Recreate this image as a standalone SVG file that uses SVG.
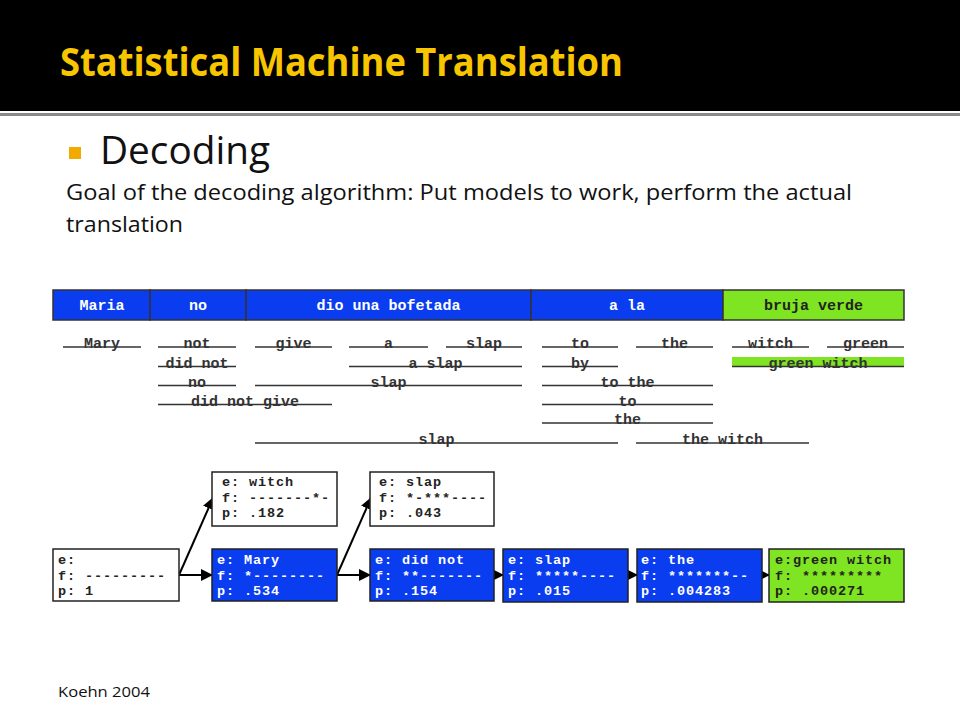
<svg xmlns="http://www.w3.org/2000/svg" width="960" height="720" viewBox="0 0 960 720">
<defs>
<style>
.ttl{font-family:"Open Sans","Noto Sans",sans-serif;font-weight:bold;fill:#f7c600}
.body{font-family:"Open Sans","Noto Sans",sans-serif;fill:#111}
.mono{font-family:"Liberation Mono","DejaVu Sans Mono",monospace;font-weight:bold;font-size:15px}
.bx{font-size:13.5px;letter-spacing:0.9px}
.cellb{fill:#0a3cf0;stroke:#333;stroke-width:1.5}
.cellg{fill:#7fe421;stroke:#333;stroke-width:1.5}
.wt{fill:#fff}
.dk{fill:#222}
.ph{fill:#333}
.pl{stroke:#333;stroke-width:1.5}
.boxw{fill:#fff;stroke:#222;stroke-width:1.5}
.boxb{fill:#0a3cf0;stroke:#222;stroke-width:1.5}
.boxg{fill:#7fe421;stroke:#222;stroke-width:1.5}
.arr{stroke:#000;stroke-width:2;fill:none}
</style>
<marker id="ah" markerUnits="userSpaceOnUse" markerWidth="12" markerHeight="12" viewBox="0 0 12 12" refX="11" refY="6" orient="auto">
<path d="M0,0 L12,6 L0,12 Z" fill="#000"/>
</marker>
</defs>
<rect x="0" y="0" width="960" height="720" fill="#fff"/>
<g id="header">
<rect x="0" y="0" width="960" height="111" fill="#000"/>
<rect x="0" y="113" width="960" height="3" fill="#8a8a8a"/>
<text class="ttl" x="60" y="76" font-size="39" textLength="563" lengthAdjust="spacingAndGlyphs">Statistical Machine Translation</text>
</g>
<g id="bullet">
<rect x="69" y="147" width="12" height="12" fill="#f2a900"/>
<text class="body" x="100" y="164" font-size="38" textLength="170" lengthAdjust="spacingAndGlyphs">Decoding</text>
<text class="body" x="66" y="200" font-size="22" textLength="786" lengthAdjust="spacingAndGlyphs">Goal of the decoding algorithm:  Put models to work, perform the actual</text>
<text class="body" x="66" y="232" font-size="22" textLength="117" lengthAdjust="spacingAndGlyphs">translation</text>
</g>
<g id="source-row" class="mono" text-anchor="middle">
<rect class="cellb" x="53" y="290" width="97" height="30"/>
<rect class="cellb" x="150" y="290" width="96" height="30"/>
<rect class="cellb" x="246" y="290" width="285" height="30"/>
<rect class="cellb" x="531" y="290" width="192" height="30"/>
<rect class="cellg" x="723" y="290" width="181" height="30"/>
<text class="wt" x="102" y="310">Maria</text>
<text class="wt" x="198" y="310">no</text>
<text class="wt" x="388.5" y="310">dio una bofetada</text>
<text class="wt" x="627" y="310">a la</text>
<text class="dk" x="813.5" y="310">bruja verde</text>
</g>
<g id="phrase-options" class="mono" text-anchor="middle">
<rect x="732" y="357" width="172" height="10" fill="#7fe421"/>
<g class="pl">
<line x1="63" y1="347" x2="141" y2="347"/>
<line x1="158" y1="347" x2="236" y2="347"/>
<line x1="255" y1="347" x2="332" y2="347"/>
<line x1="349" y1="347" x2="428" y2="347"/>
<line x1="446" y1="347" x2="522" y2="347"/>
<line x1="542" y1="347" x2="618" y2="347"/>
<line x1="636" y1="347" x2="713" y2="347"/>
<line x1="732" y1="347" x2="809" y2="347"/>
<line x1="827" y1="347" x2="904" y2="347"/>
<line x1="158" y1="366.5" x2="236" y2="366.5"/>
<line x1="349" y1="366.5" x2="522" y2="366.5"/>
<line x1="542" y1="366.5" x2="618" y2="366.5"/>
<line x1="732" y1="366.5" x2="904" y2="366.5"/>
<line x1="158" y1="385.5" x2="236" y2="385.5"/>
<line x1="255" y1="385.5" x2="522" y2="385.5"/>
<line x1="542" y1="385.5" x2="713" y2="385.5"/>
<line x1="158" y1="404.5" x2="332" y2="404.5"/>
<line x1="542" y1="404.5" x2="713" y2="404.5"/>
<line x1="542" y1="423" x2="713" y2="423"/>
<line x1="255" y1="443" x2="618" y2="443"/>
<line x1="636" y1="443" x2="809" y2="443"/>
</g>
<g class="ph">
<text x="102" y="348">Mary</text>
<text x="197" y="348">not</text>
<text x="293.5" y="348">give</text>
<text x="388.5" y="348">a</text>
<text x="484" y="348">slap</text>
<text x="580" y="348">to</text>
<text x="674.5" y="348">the</text>
<text x="770.5" y="348">witch</text>
<text x="865.5" y="348">green</text>
<text x="197" y="367.5">did not</text>
<text x="435.5" y="367.5">a slap</text>
<text x="580" y="367.5">by</text>
<text x="818" y="367.5">green witch</text>
<text x="197" y="386.5">no</text>
<text x="388.5" y="386.5">slap</text>
<text x="627.5" y="386.5">to the</text>
<text x="245" y="405.5">did not give</text>
<text x="627.5" y="405.5">to</text>
<text x="627.5" y="424">the</text>
<text x="436.5" y="444">slap</text>
<text x="722.5" y="444">the witch</text>
</g>
</g>
<g id="connectors">
<line class="arr" x1="179" y1="575" x2="212" y2="575" marker-end="url(#ah)"/>
<line class="arr" x1="179" y1="575" x2="213" y2="498" marker-end="url(#ah)"/>
<line class="arr" x1="337" y1="575" x2="370" y2="575" marker-end="url(#ah)"/>
<line class="arr" x1="337" y1="575" x2="371" y2="498" marker-end="url(#ah)"/>
<line class="arr" x1="494" y1="575" x2="503" y2="575" marker-end="url(#ah)"/>
<line class="arr" x1="628" y1="575" x2="637" y2="575" marker-end="url(#ah)"/>
<line class="arr" x1="762" y1="575" x2="769" y2="575" marker-end="url(#ah)"/>
</g>
<g id="hyp-start" class="mono bx">
<rect class="boxw" x="53" y="549" width="126" height="52"/>
<text class="dk" x="58" y="564">e:</text>
<text class="dk" x="58" y="579.5">f: ---------</text>
<text class="dk" x="58" y="595">p: 1</text>
</g>
<g id="hyp-witch" class="mono bx">
<rect class="boxw" x="212" y="472" width="125" height="54"/>
<text class="dk" x="222" y="486">e: witch</text>
<text class="dk" x="222" y="501.5">f: -------*-</text>
<text class="dk" x="222" y="517">p: .182</text>
</g>
<g id="hyp-mary" class="mono bx">
<rect class="boxb" x="212" y="549" width="125" height="52"/>
<text class="wt" x="217" y="564">e: Mary</text>
<text class="wt" x="217" y="579.5">f: *--------</text>
<text class="wt" x="217" y="595">p: .534</text>
</g>
<g id="hyp-slap-top" class="mono bx">
<rect class="boxw" x="370" y="472" width="124" height="54"/>
<text class="dk" x="379" y="486">e: slap</text>
<text class="dk" x="379" y="501.5">f: *-***----</text>
<text class="dk" x="379" y="517">p: .043</text>
</g>
<g id="hyp-didnot" class="mono bx">
<rect class="boxb" x="370" y="549" width="124" height="52"/>
<text class="wt" x="375" y="564">e: did not</text>
<text class="wt" x="375" y="579.5">f: **-------</text>
<text class="wt" x="375" y="595">p: .154</text>
</g>
<g id="hyp-slap" class="mono bx">
<rect class="boxb" x="503" y="549" width="125" height="53"/>
<text class="wt" x="508" y="564">e: slap</text>
<text class="wt" x="508" y="579.5">f: *****----</text>
<text class="wt" x="508" y="595">p: .015</text>
</g>
<g id="hyp-the" class="mono bx">
<rect class="boxb" x="637" y="549" width="125" height="53"/>
<text class="wt" x="641" y="564">e: the</text>
<text class="wt" x="641" y="579.5">f: *******--</text>
<text class="wt" x="641" y="595">p: .004283</text>
</g>
<g id="hyp-greenwitch" class="mono bx">
<rect class="boxg" x="769" y="549" width="135" height="53"/>
<text class="dk" x="775" y="564">e:green witch</text>
<text class="dk" x="775" y="579.5">f: *********</text>
<text class="dk" x="775" y="595">p: .000271</text>
</g>
<g id="footer">
<text class="body" x="58" y="697" font-size="15" textLength="92" lengthAdjust="spacingAndGlyphs">Koehn 2004</text>
</g>
</svg>
